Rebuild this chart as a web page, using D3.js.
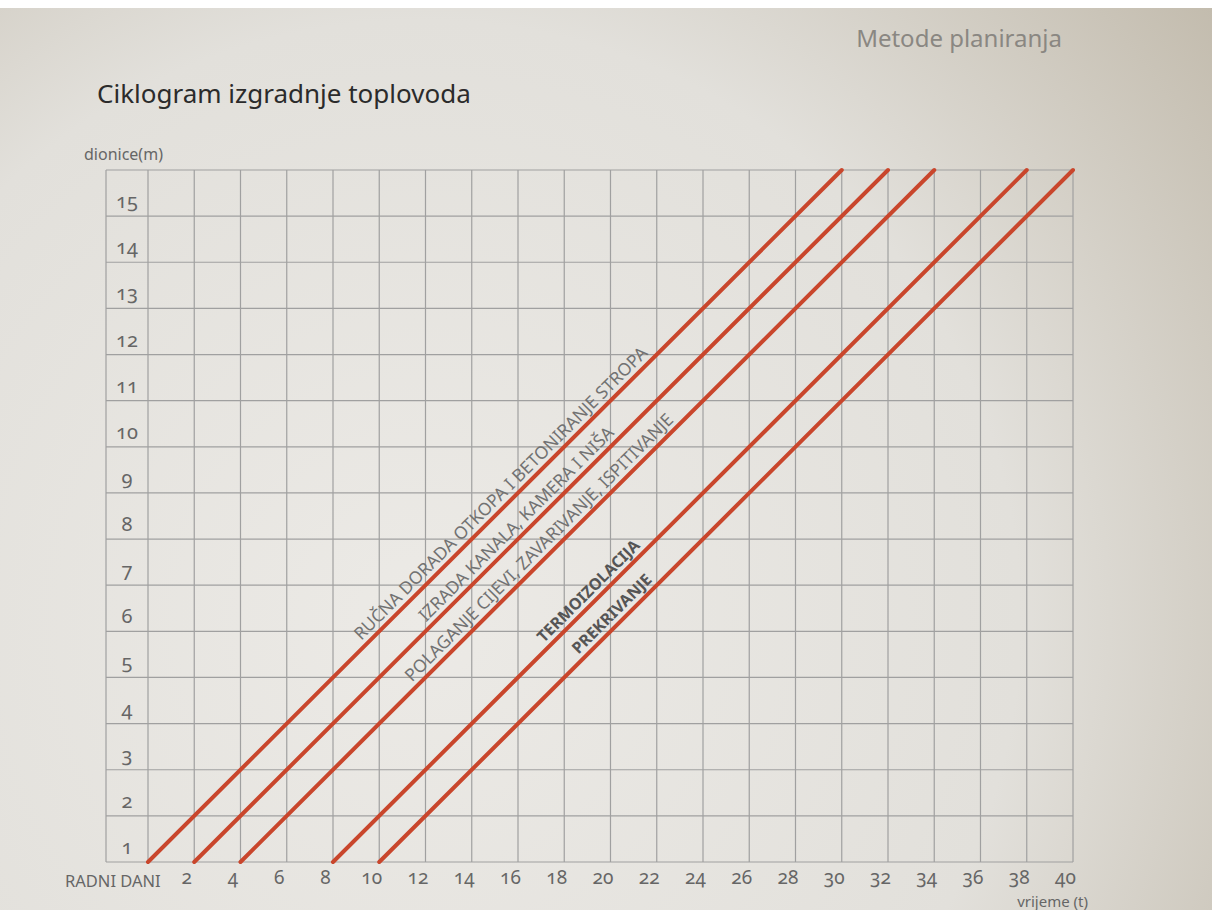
<!DOCTYPE html>
<html>
<head>
<meta charset="utf-8">
<script src="https://cdn.jsdelivr.net/npm/d3@7"></script>
<style>
  body { margin: 0; background: #e4e2dd; }
  svg { display: block; font-family: "Noto Sans", "Open Sans", sans-serif; }
  .num { font-variant-numeric: oldstyle-nums; font-feature-settings: "onum" 1; }
</style>
</head>
<body>
<svg id="graph1"></svg>
<script>
// ciklogram - values
var dayTicks = [2,4,6,8,10,12,14,16,18,20,22,24,26,28,30,32,34,36,38,40];
var sections = [1,2,3,4,5,6,7,8,9,10,11,12,13,14,15];
var activities = [
  "RUČNA DORADA OTKOPA I BETONIRANJE STROPA",
  "IZRADA KANALA, KAMERA I NIŠA",
  "POLAGANJE CIJEVI, ZAVARIVANJE, ISPITIVANJE",
  "TERMOIZOLACIJA",
  "PREKRIVANJE"
];
var startDays = [0, 2, 4, 8, 10];
var endDays = [30, 32, 34, 38, 40];
var endSections = [15, 15, 15, 15, 15];
var labelDays = [9.4, 12.2, 11.6, 17.3, 18.8];
var labelBold = [false, false, false, true, true];

var screen = { width: 1212, height: 910 };
var plot = { left: 148, right: 1073, top: 170, bottom: 862, labelCol: 106 };

var svg = d3.select("#graph1")
  .attr("width", screen.width)
  .attr("height", screen.height);

// paper background
var defs = svg.append("defs");
var grad = defs.append("radialGradient")
  .attr("id", "paper")
  .attr("gradientUnits", "userSpaceOnUse")
  .attr("cx", 420).attr("cy", 620).attr("r", 1000);
grad.append("stop").attr("offset", "0").attr("stop-color", "#eceae6");
grad.append("stop").attr("offset", "0.6").attr("stop-color", "#e2e0db");
grad.append("stop").attr("offset", "1").attr("stop-color", "#c3bcae");

svg.append("rect")
  .attr("width", screen.width).attr("height", screen.height)
  .attr("fill", "url(#paper)");
svg.append("rect")
  .attr("width", screen.width).attr("height", 8)
  .attr("fill", "#ffffff");

var xScale = d3.scaleLinear()
  .domain([0, 40])
  .range([plot.left, plot.right]);

var yScale = d3.scaleLinear()
  .domain([0, 15])
  .range([plot.bottom, plot.top]);

// grid
var grid = svg.append("g").attr("class", "grid")
  .attr("stroke", "#a0a0a0").attr("stroke-width", 1.2);

grid.selectAll("line.v")
  .data([0].concat(dayTicks))
  .enter()
  .append("line")
  .attr("class", "v")
  .attr("x1", function(d){return xScale(d);})
  .attr("x2", function(d){return xScale(d);})
  .attr("y1", yScale(15))
  .attr("y2", yScale(0));

grid.append("line")
  .attr("x1", plot.labelCol).attr("x2", plot.labelCol)
  .attr("y1", yScale(15)).attr("y2", yScale(0));

grid.selectAll("line.h")
  .data([0].concat(sections))
  .enter()
  .append("line")
  .attr("class", "h")
  .attr("x1", plot.labelCol)
  .attr("x2", xScale(40))
  .attr("y1", function(d){return yScale(d);})
  .attr("y2", function(d){return yScale(d);});

// x axis labels
var xAxis = d3.axisBottom(xScale)
  .tickValues(dayTicks)
  .tickSize(0)
  .tickPadding(9);

var xg = svg.append("g")
  .attr("transform", "translate(0," + yScale(0) + ")")
  .call(xAxis);
xg.select(".domain").remove();
xg.selectAll("text")
  .attr("class", "num")
  .attr("dx", -8)
  .attr("font-size", 19)
  .attr("font-family", "Noto Sans")
  .attr("fill", "#666");

// y labels (in the left column, lower part of each row)
svg.selectAll("text.ylab")
  .data(sections)
  .enter()
  .append("text")
  .attr("class", "ylab num")
  .attr("x", 127)
  .attr("y", function(d){return yScale(d - 1) - 8;})
  .attr("text-anchor", "middle")
  .attr("font-size", 20)
  .attr("fill", "#666")
  .text(function(d){return d;});

// activity lines
var drawLine = d3.line()
  .x(function(d){return xScale(d[0]);})
  .y(function(d){return yScale(d[1]);});

svg.selectAll("path.act")
  .data(startDays)
  .enter()
  .append("path")
  .attr("class", "act")
  .attr("d", function(d, i){return drawLine([[d, 0], [endDays[i], endSections[i]]]);})
  .attr("fill", "none")
  .attr("stroke", "#c9462c")
  .attr("stroke-width", 4)
  .attr("stroke-linecap", "round");

// labels along the lines
svg.selectAll("text.act")
  .data(activities)
  .enter()
  .append("text")
  .attr("class", "act")
  .attr("transform", function(d, i){
    var s = startDays[i], e = endDays[i];
    var t = labelDays[i];
    var sec = (t - s) / (e - s) * endSections[i];
    var px = xScale(t), py = yScale(sec);
    var ang = Math.atan2(yScale(endSections[i]) - yScale(0), xScale(e) - xScale(s)) * 180 / Math.PI;
    return "translate(" + px + "," + py + ") rotate(" + ang + ")";
  })
  .attr("dy", -6)
  .attr("font-size", function(d, i){return labelBold[i] ? 16 : 17.5;})
  .attr("font-weight", function(d, i){return labelBold[i] ? "bold" : "normal";})
  .attr("fill", function(d, i){return labelBold[i] ? "#555" : "#727272";})
  .text(function(d){return d;});

// texts
svg.append("text")
  .attr("x", 97).attr("y", 103)
  .attr("font-size", 26)
  .attr("fill", "#2b2b2b")
  .text("Ciklogram izgradnje toplovoda");

svg.append("text")
  .attr("x", 1062).attr("y", 47)
  .attr("text-anchor", "end")
  .attr("font-size", 24)
  .attr("fill", "#8a8782")
  .text("Metode planiranja");

svg.append("text")
  .attr("x", 84).attr("y", 160)
  .attr("font-size", 16)
  .attr("fill", "#666")
  .text("dionice(m)");

svg.append("text")
  .attr("x", 65).attr("y", 887)
  .attr("font-size", 16.5)
  .attr("fill", "#666")
  .text("RADNI DANI");

svg.append("text")
  .attr("x", 1088).attr("y", 907)
  .attr("text-anchor", "end")
  .attr("font-size", 15)
  .attr("fill", "#666")
  .text("vrijeme (t)");
</script>
</body>
</html>
